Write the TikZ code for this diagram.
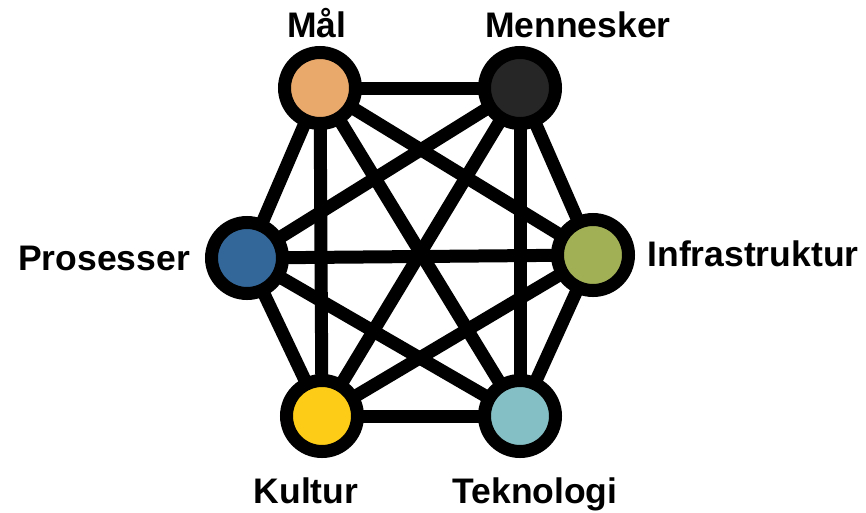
\documentclass[tikz,border=0pt]{standalone}
\usepackage{fontspec}
\setmainfont{Liberation Sans}
\usetikzlibrary{backgrounds}
\definecolor{cmaal}{HTML}{E9A96A}
\definecolor{cmenn}{HTML}{262626}
\definecolor{cpros}{HTML}{33679A}
\definecolor{cinfra}{HTML}{A2B055}
\definecolor{ckult}{HTML}{FDCC16}
\definecolor{ctek}{HTML}{84BFC5}
\begin{document}
\begin{tikzpicture}[x=1pt,y=-1pt,
  hub/.style={circle,draw=black,line width=13pt,minimum size=71pt,inner sep=0pt},
  link/.style={draw=black,line width=13pt},
  lbl/.style={font=\fontsize{35.5}{40}\selectfont\bfseries,anchor=base,inner sep=0pt}]
\useasboundingbox (0,0) rectangle (866,512);
\node[hub,fill=cmaal] (maal) at (320,88) {};
\node[hub,fill=cmenn] (menn) at (520,88) {};
\node[hub,fill=cpros] (pros) at (247,258) {};
\node[hub,fill=cinfra] (infra) at (593,255) {};
\node[hub,fill=ckult] (kult) at (322,416) {};
\node[hub,fill=ctek] (tek) at (520,416) {};
\begin{scope}[on background layer]
\foreach \a/\b in {maal/menn,maal/pros,maal/infra,maal/kult,maal/tek,
  menn/pros,menn/infra,menn/kult,menn/tek,
  pros/infra,pros/kult,pros/tek,
  infra/kult,infra/tek,kult/tek}
  \draw[link] (\a.center) -- (\b.center);
\end{scope}
\node[lbl] (lmaal) at (317,37) {Mål};
\node[lbl] (lmenn) at (578,37) {Mennesker};
\node[lbl] (lpros) at (104,270) {Prosesser};
\node[lbl] (linfra) at (753,266) {Infrastruktur};
\node[lbl] (lkult) at (306,503) {Kultur};
\node[lbl] (ltek) at (535,503) {Teknologi};
\end{tikzpicture}
\end{document}
